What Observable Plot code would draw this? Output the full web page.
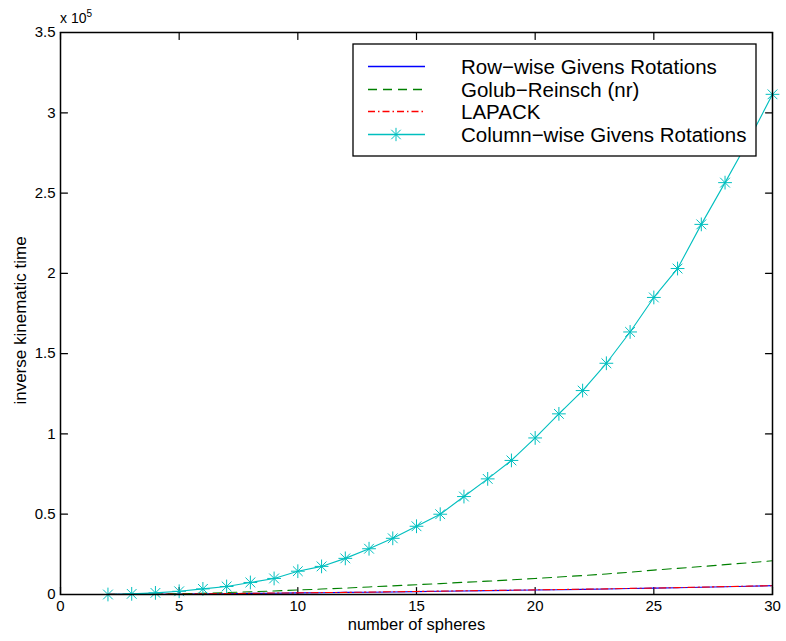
<!DOCTYPE html>
<html><head><meta charset="utf-8">
<script src="https://cdn.jsdelivr.net/npm/d3@7"></script>
<script src="https://cdn.jsdelivr.net/npm/@observablehq/plot@0.6"></script>
<style>
body{margin:0;background:#fff}
#chart{position:relative;width:786px;height:641px}
</style>
</head><body><div id="chart"></div>
<script>
// number of spheres
const spheres = [2,3,4,5,6,7,8,9,10,11,12,13,14,15,16,17,18,19,20,21,22,23,24,25,26,27,28,29,30];
// inverse kinematic time (x 10^5)
const rowWise = [0.0005,0.001,0.002,0.003,0.004,0.005,0.007,0.008,0.010,0.011,0.013,0.014,0.016,0.018,0.020,0.022,0.024,0.026,0.028,0.030,0.032,0.034,0.037,0.040,0.042,0.045,0.048,0.051,0.055];
const golub = [0.001,0.002,0.003,0.005,0.008,0.012,0.017,0.022,0.028,0.034,0.040,0.047,0.054,0.061,0.068,0.076,0.083,0.091,0.100,0.109,0.118,0.128,0.139,0.152,0.163,0.174,0.186,0.198,0.210];
const lapack = [0.0006,0.0012,0.002,0.003,0.004,0.006,0.007,0.009,0.010,0.012,0.013,0.015,0.017,0.019,0.021,0.023,0.025,0.027,0.029,0.031,0.033,0.035,0.038,0.040,0.043,0.046,0.049,0.052,0.055];
const columnWise = [0,0.004,0.010,0.020,0.035,0.050,0.075,0.100,0.145,0.175,0.225,0.285,0.350,0.425,0.500,0.610,0.720,0.835,0.975,1.125,1.270,1.440,1.635,1.850,2.030,2.305,2.565,2.830,3.115];

const seriesNames = ["Row\u2212wise Givens Rotations","Golub\u2212Reinsch (nr)","LAPACK","Column\u2212wise Givens Rotations"];
const seriesColors = ["#0000ff","#008000","#ff0000","#00bfbf"];
const seriesDash = [null,"9,6","7,3,1.5,3",null];

const xTicks = [0,5,10,15,20,25,30];
const xTickLabels = ["0","5","10","15","20","25","30"];
const yTicks = [0,0.5,1,1.5,2,2.5,3,3.5];
const yTickLabels = ["0","0.5","1","1.5","2","2.5","3","3.5"];
const xLabel = "number of spheres";
const yLabel = "inverse kinematic time";

const W = 786, H = 641;
const mL = 60, mR = 14, mT = 32, mB = 47;
const tickLen = 7;
const FONT = "'Liberation Sans', Arial, Helvetica, sans-serif";

const table = spheres.map((s, i) => ({s, row: rowWise[i], golub: golub[i], lapack: lapack[i], col: columnWise[i]}));
const keys = ["row","golub","lapack","col"];
const xMin = 0, xMax = 30, yMin = 0, yMax = 3.5;

// straight tick shape for Plot.vector
const tickShape = {draw(context, l) { context.moveTo(0, 0); context.lineTo(0, -l); }};
const tickOpts = {length: tickLen, anchor: "start", shape: tickShape, stroke: "black", strokeWidth: 1.2};

const marks = [
  Plot.axisX(xTicks, {tickSize: 0, tickPadding: 6, tickFormat: (d, i) => xTickLabels[i], fontSize: 15, label: null}),
  Plot.axisY(yTicks, {tickSize: 0, tickPadding: 5, tickFormat: (d, i) => yTickLabels[i], fontSize: 15, label: null}),
  // inward ticks on all four sides
  Plot.vector(xTicks, {...tickOpts, x: d => d, y: () => yMin, rotate: 0}),
  Plot.vector(xTicks, {...tickOpts, x: d => d, y: () => yMax, rotate: 180}),
  Plot.vector(yTicks, {...tickOpts, x: () => xMin, y: d => d, rotate: 90}),
  Plot.vector(yTicks, {...tickOpts, x: () => xMax, y: d => d, rotate: -90}),
];
keys.forEach((k, j) => {
  marks.push(Plot.line(table, {x: "s", y: k, stroke: seriesColors[j], strokeWidth: 1.1, strokeDasharray: seriesDash[j]}));
});
marks.push(Plot.dot(table, {x: "s", y: "col", symbol: "plus", r: 4.5, stroke: seriesColors[3], strokeWidth: 1}));
marks.push(Plot.dot(table, {x: "s", y: "col", symbol: "times", r: 4.5, stroke: seriesColors[3], strokeWidth: 1}));
marks.push(Plot.frame({stroke: "black", strokeWidth: 1.5}));
marks.push(Plot.text([xLabel], {frameAnchor: "bottom", textAnchor: "middle", dy: 35, fontSize: 16.5, fill: "black"}));
marks.push(Plot.text([yLabel], {frameAnchor: "left", textAnchor: "middle", dx: -40, dy: 7, rotate: -90, fontSize: 17, fill: "black"}));

const chart = Plot.plot({
  width: W, height: H,
  marginLeft: mL, marginRight: mR, marginTop: mT, marginBottom: mB,
  x: {domain: [xMin, xMax]},
  y: {domain: [yMin, yMax]},
  style: {fontFamily: FONT, fontSize: "15px", background: "white", color: "black", overflow: "visible"},
  marks
});
document.getElementById("chart").appendChild(chart);

// exponent annotation and legend
const svg = d3.select(chart);
const exp = svg.append("text").attr("x", mL).attr("y", mT - 9).attr("text-anchor", "start")
  .attr("font-family", FONT).attr("font-size", 14).attr("fill", "black");
exp.append("tspan").text("x 10");
exp.append("tspan").attr("font-size", 10).attr("dy", -6).text("5");

const lg = svg.append("g").attr("text-anchor", "start");
const lx = 353, ly = 44, lw = 403, lh = 112;
lg.append("rect").attr("x", lx).attr("y", ly).attr("width", lw).attr("height", lh)
  .attr("fill", "white").attr("stroke", "black").attr("stroke-width", 1.3);
const rowY = [66.5, 89.5, 111.5, 134.5];
seriesNames.forEach((name, j) => {
  const y = rowY[j];
  const ln = lg.append("line").attr("x1", 368).attr("x2", 425).attr("y1", y).attr("y2", y)
    .attr("stroke", seriesColors[j]).attr("stroke-width", 1.4);
  if (seriesDash[j]) ln.attr("stroke-dasharray", seriesDash[j]);
  if (j === 3) {
    lg.append("path").attr("d", d3.symbol(d3.symbolPlus, 60)()).attr("transform", `translate(396,${y})`)
      .attr("fill", "none").attr("stroke", seriesColors[j]);
    lg.append("path").attr("d", d3.symbol(d3.symbolTimes, 60)()).attr("transform", `translate(396,${y})`)
      .attr("fill", "none").attr("stroke", seriesColors[j]);
  }
  lg.append("text").attr("x", 461).attr("y", y).attr("dy", "0.35em").attr("text-anchor", "start")
    .attr("font-family", FONT).attr("font-size", 20.5).attr("fill", "black").text(name);
});
</script>
</body></html>
